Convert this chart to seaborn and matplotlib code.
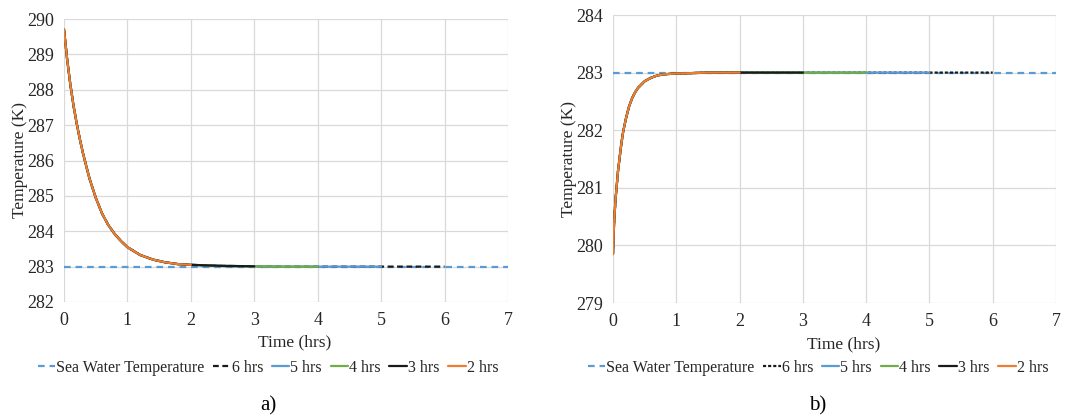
import numpy as np
import pandas as pd
import matplotlib
matplotlib.use("Agg")
import matplotlib.pyplot as plt
import seaborn as sns

# Sea water reference temperature (K) and time span of the horizontal axis (hrs)
sea_temp = 283.0
sea_span = [0, 7]

# Simulation run lengths (hrs), in legend order
run_hours = [6, 5, 4, 3, 2]
run_labels = ["6 hrs", "5 hrs", "4 hrs", "3 hrs", "2 hrs"]

# a) cooling of warmer water towards sea temperature
time_a = [0.0, 0.05, 0.1, 0.15, 0.2, 0.25, 0.3, 0.4, 0.5, 0.6, 0.7, 0.8, 0.9,
          1.0, 1.2, 1.4, 1.6, 1.8, 2.0, 2.5, 3.0, 3.5, 4.0, 5.0, 6.0]
temp_a = [289.70, 288.85, 288.15, 287.55, 287.05, 286.60, 286.20, 285.50, 284.95,
          284.50, 284.17, 283.92, 283.72, 283.55, 283.33, 283.20, 283.12, 283.07,
          283.05, 283.02, 283.01, 283.00, 283.00, 283.00, 283.00]

# b) warming of colder water towards sea temperature
time_b = [0.0, 0.01, 0.02, 0.04, 0.06, 0.08, 0.1, 0.13, 0.16, 0.2, 0.25, 0.3, 0.35,
          0.4, 0.5, 0.6, 0.7, 0.8, 1.0, 1.2, 1.5, 2.0, 3.0, 4.0, 5.0, 6.0]
temp_b = [279.85, 280.20, 280.45, 280.80, 281.05, 281.30, 281.48, 281.75, 281.97,
          282.18, 282.40, 282.55, 282.66, 282.74, 282.85, 282.91, 282.95, 282.97,
          282.985, 282.99, 283.00, 283.00, 283.00, 283.00, 283.00, 283.00]

BLUE = "#5b9bd5"
ORANGE = "#ed7d31"
GREEN = "#70ad47"
BLACK = "#1a1a1a"
GRID = "#d9d9d9"
TEXT = "#262626"

sns.set_theme(style="white")
plt.rcParams["font.family"] = ["Liberation Serif", "DejaVu Serif"]
plt.rcParams["text.color"] = TEXT
plt.rcParams["axes.labelcolor"] = TEXT
plt.rcParams["xtick.color"] = TEXT
plt.rcParams["ytick.color"] = TEXT

fig = plt.figure(figsize=(10.81, 4.16), dpi=100)
ax_a = fig.add_axes([64 / 1081, 1 - 302 / 416, 444 / 1081, 283 / 416])
ax_b = fig.add_axes([613 / 1081, 1 - 303 / 416, 443 / 1081, 288 / 416])


def draw_panel(ax, times, temps, ylim, six_dash, tag, center_x):
    df = pd.DataFrame({"t": times, "T": temps})
    sea = pd.DataFrame({"t": sea_span, "T": [sea_temp, sea_temp]})
    sns.lineplot(data=sea, x="t", y="T", ax=ax, color=BLUE, lw=1.6,
                 label="Sea Water Temperature")
    ax.lines[-1].set_dashes((3.0, 2.2))
    styles = {
        "6 hrs": dict(color=BLACK, dash=six_dash),
        "5 hrs": dict(color=BLUE, dash=None),
        "4 hrs": dict(color=GREEN, dash=None),
        "3 hrs": dict(color=BLACK, dash=None),
        "2 hrs": dict(color=ORANGE, dash=None),
    }
    for hrs, lab in zip(run_hours, run_labels):
        sub = df[df["t"] <= hrs]
        sns.lineplot(data=sub, x="t", y="T", ax=ax, color=styles[lab]["color"],
                     lw=1.6, label=lab)
        if styles[lab]["dash"] is not None:
            ax.lines[-1].set_dashes(styles[lab]["dash"])

    ax.set_xlim(0, 7)
    ax.set_ylim(*ylim)
    ax.set_xticks(range(0, 8))
    ax.set_yticks(range(ylim[0], ylim[1] + 1))
    ax.grid(True, color=GRID, lw=0.9)
    ax.set_axisbelow(True)
    for s in ax.spines.values():
        s.set_visible(False)
    ax.tick_params(axis="both", length=0, labelsize=13, pad=7)
    ax.set_xlabel("Time (hrs)", fontsize=12.5, labelpad=4)
    ax.xaxis.set_label_coords(0.52, -0.115)
    ax.xaxis.label.set_va("top")
    ax.set_ylabel("Temperature (K)", fontsize=12.5, labelpad=-0.5)
    handles, labels = ax.get_legend_handles_labels()
    ax.legend_.remove()
    fig.legend(handles, labels, loc="center",
               bbox_to_anchor=(center_x, 1 - 368 / 416), ncol=6,
               frameon=False, fontsize=11.5, handlelength=1.1,
               handletextpad=0.05, columnspacing=0.55, borderpad=0)
    fig.text(center_x, 1 - 406 / 416, tag, fontsize=15, ha="center",
             va="center", color="black")


draw_panel(ax_a, time_a, temp_a, (282, 290), (2.6, 1.6), "a)", 268 / 1081)
draw_panel(ax_b, time_b, temp_b, (279, 284), (1.4, 0.9), "b)", 818 / 1081)

fig.savefig("out.png", dpi=100)
